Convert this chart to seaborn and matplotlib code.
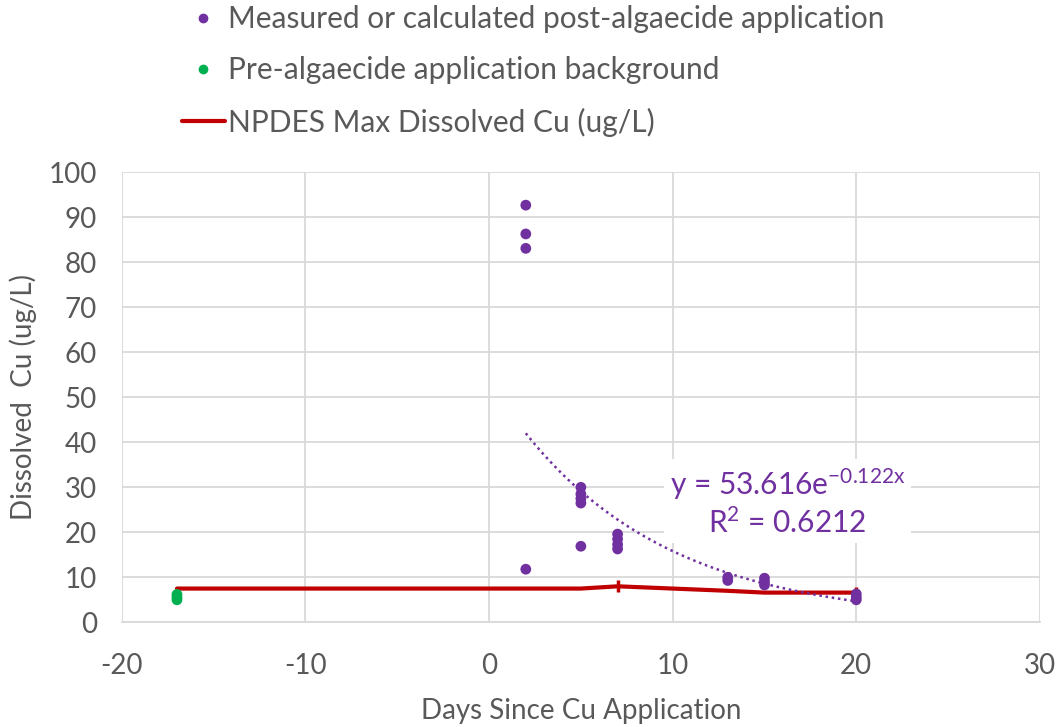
import numpy as np
import pandas as pd
import seaborn as sns
import matplotlib.pyplot as plt
from matplotlib.lines import Line2D

# Data
post_days = [2, 2, 2, 2, 5, 5, 5, 5, 5, 7, 7, 7, 7, 13, 13, 15, 15, 15, 20, 20, 20]
post_cu = [92.7, 86.3, 83.1, 11.8, 30.0, 28.5, 27.5, 26.5, 16.9, 19.6, 18.5, 17.3, 16.3,
           10.0, 9.3, 9.8, 9.0, 8.3, 6.3, 5.6, 5.0]
pre_days = [-17, -17, -17]
pre_cu = [6.2, 5.6, 5.0]
npdes_days = [-17, 5, 7, 13, 15, 20]
npdes_cu = [7.5, 7.5, 8.0, 7.0, 6.6, 6.6]
fit_a = 53.616
fit_b = -0.122
fit_r2 = 0.6212
xticks = [-20, -10, 0, 10, 20, 30]
yticks = list(range(0, 101, 10))

purple = "#7030A0"
green = "#00B050"
red = "#C00000"

sns.set_theme(style="white")
plt.rcParams['font.family'] = ['Lato', 'DejaVu Sans']
plt.rcParams['text.color'] = '#595959'
plt.rcParams['axes.unicode_minus'] = False
plt.rcParams['mathtext.fontset'] = 'custom'
plt.rcParams['mathtext.rm'] = 'Lato'
plt.rcParams['mathtext.it'] = 'Lato'

fig = plt.figure(figsize=(10.6, 7.27), dpi=100)
ax = fig.add_axes([0.115, 0.144, 0.866, 0.619])

post = pd.DataFrame({"day": post_days, "cu": post_cu})
pre = pd.DataFrame({"day": pre_days, "cu": pre_cu})
npdes = pd.DataFrame({"day": npdes_days, "cu": npdes_cu})

fx = np.linspace(2, 20, 100)
fit = pd.DataFrame({"day": fx, "cu": fit_a * np.exp(fit_b * fx)})

sns.lineplot(data=npdes, x="day", y="cu", color=red, linewidth=3, ax=ax, zorder=2,
             estimator=None, sort=False)
sns.scatterplot(data=pre, x="day", y="cu", color=green, s=60, edgecolor="none", ax=ax, zorder=3)
sns.scatterplot(data=post, x="day", y="cu", color=purple, s=60, edgecolor="none", ax=ax, zorder=3)
sns.lineplot(data=fit, x="day", y="cu", color=purple, linewidth=1.8, linestyle=(0, (1, 1.5)),
             ax=ax, zorder=4, estimator=None)
# small tick markers on NPDES line
ax.plot([7, 20], [8.0, 6.6], linestyle="none", marker="|", color=red, markersize=9, mew=2.5, zorder=2)

ax.set_xlim(-20, 30)
ax.set_ylim(0, 100)
ax.set_xticks(xticks)
ax.set_yticks(yticks)
ax.grid(True, color="#d9d9d9", linewidth=1.3)
for s in ["top", "right", "left"]:
    ax.spines[s].set_visible(False)
ax.spines["bottom"].set_color("#d9d9d9")
ax.spines["bottom"].set_linewidth(1.3)
ax.tick_params(axis="both", labelsize=20, colors="#595959", length=0)
ax.tick_params(axis="x", pad=22)
ax.tick_params(axis="y", pad=18)
ax.set_xlabel("Days Since Cu Application", fontsize=20, color="#595959", labelpad=14)
ax.set_ylabel("Dissolved  Cu (ug/L)", fontsize=20, color="#595959")
ax.yaxis.set_label_coords(-0.093, 0.5)

ax.text(0.725, 0.267, r"y = 53.616e$^{\mathrm{-0.122x}}$" + "\n" + r"R$^{\mathrm{2}}$ = 0.6212",
        transform=ax.transAxes, ha="center", va="center", fontsize=21.5, color=purple,
        linespacing=1.2,
        bbox=dict(facecolor="white", edgecolor="none", pad=4), zorder=5)

handles = [
    Line2D([], [], linestyle="none", marker="o", color=purple, markersize=6),
    Line2D([], [], linestyle="none", marker="o", color=green, markersize=6),
    Line2D([], [], color=red, linewidth=3),
]
labels = ["Measured or calculated post-algaecide application",
          "Pre-algaecide application background",
          "NPDES Max Dissolved Cu (ug/L)"]
leg = fig.legend(handles, labels, loc="upper left", bbox_to_anchor=(0.146, 1.03),
                 frameon=False, fontsize=21.5, labelspacing=0.78, handlelength=1.45,
                 handletextpad=0.1)
for t in leg.get_texts():
    t.set_color("#595959")

fig.savefig("out.png", dpi=100)
